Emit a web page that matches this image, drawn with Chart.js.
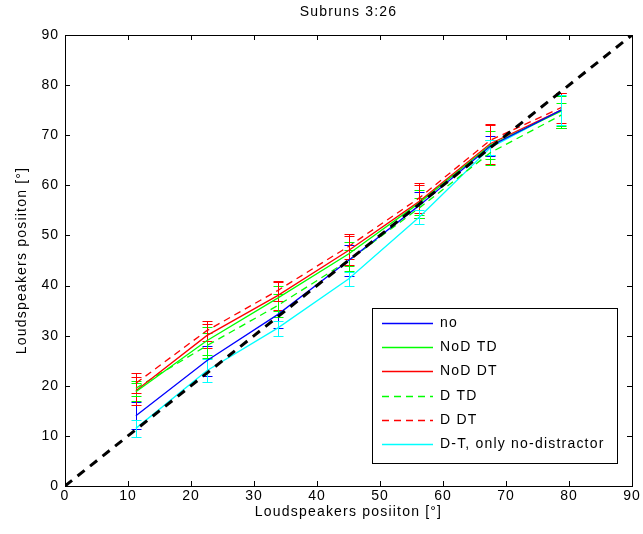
<!DOCTYPE html>
<html>
<head>
<meta charset="utf-8">
<script src="https://cdn.jsdelivr.net/npm/chart.js@4.4.1/dist/chart.umd.min.js"></script>
<style>
  html, body { margin: 0; padding: 0; background: #fff; }
</style>
</head>
<body>
<canvas id="chart" width="643" height="534"></canvas>
<script>
'use strict';

// loudspeaker positions (deg)
var positions = [11.25, 22.5, 33.75, 45, 56.25, 67.5, 78.75];
var axisTicks = [0, 10, 20, 30, 40, 50, 60, 70, 80, 90];

// mean perceived positions and error half-widths per condition
var noMean     = [14, 25, 34.2, 45, 56, 67.8, 75];
var noErr      = [2.7, 3, 2.7, 3, 2.6, 2, 3.5];
var nodTdMean  = [18.8, 29, 37.5, 46.3, 56.5, 68, 74.8];
var nodTdErr   = [1.8, 2.8, 2.5, 2.3, 2.5, 2.8, 3];
var nodDtMean  = [19, 30, 38, 47, 56.8, 68.3, 75];
var nodDtErr   = [2.8, 2.4, 2.8, 2.9, 3.3, 4, 3.5];
var dTdMean    = [19.5, 28, 36, 45, 55.5, 66.5, 74];
var dTdErr     = [1.5, 2.5, 2.3, 2, 2, 2.5, 2.5];
var dDtMean    = [20.5, 31, 39, 47.8, 57.5, 69, 75.5];
var dDtErr     = [2, 2, 2, 2.5, 3, 3, 3];
var onlyNoMean = [11.5, 23, 31.5, 41.3, 53.7, 67.5, 75];
var onlyNoErr  = [1.7, 2.3, 1.5, 1.4, 1.4, 1.5, 3];

var seriesLabels = ['no', 'NoD TD', 'NoD DT', 'D TD', 'D DT', 'D-T, only no-distractor'];
var seriesColors = ['#0000ff', '#00ff00', '#ff0000', '#00ff00', '#ff0000', '#00ffff'];
var seriesDashed = [false, false, false, true, true, false];
var seriesMeans  = [noMean, nodTdMean, nodDtMean, dTdMean, dDtMean, onlyNoMean];
var seriesErrs   = [noErr, nodTdErr, nodDtErr, dTdErr, dDtErr, onlyNoErr];

var FONT = '"Liberation Sans", Arial, sans-serif';
var DASH = [7, 5];

function points(ys) {
  return positions.map(function(x, i) { return { x: x, y: ys[i] }; });
}

var datasets = [{
  label: 'ideal',
  data: [{ x: 0, y: 0 }, { x: 90, y: 90 }],
  borderColor: '#000',
  borderWidth: 3,
  borderDash: [9, 7],
  pointRadius: 0,
  order: -1
}];
seriesLabels.forEach(function(label, i) {
  datasets.push({
    label: label,
    data: points(seriesMeans[i]),
    errors: seriesErrs[i],
    borderColor: seriesColors[i],
    borderWidth: 1.3,
    borderDash: seriesDashed[i] ? DASH : [],
    pointRadius: 0,
    order: 1
  });
});

var matlabFrame = {
  id: 'matlabFrame',
  beforeDraw: function(chart) {
    chart.ctx.letterSpacing = '1px';
  },
  beforeDatasetsDraw: function(chart) {
    var ctx = chart.ctx, xs = chart.scales.x, ys = chart.scales.y;
    ctx.save();
    ctx.lineWidth = 1;
    chart.data.datasets.forEach(function(ds) {
      if (!ds.errors) return;
      ctx.strokeStyle = ds.borderColor;
      ds.data.forEach(function(p, i) {
        var px = Math.round(xs.getPixelForValue(p.x)) + 0.5;
        var top = Math.round(ys.getPixelForValue(p.y + ds.errors[i])) + 0.5;
        var bot = Math.round(ys.getPixelForValue(p.y - ds.errors[i])) + 0.5;
        ctx.beginPath();
        ctx.moveTo(px, top); ctx.lineTo(px, bot);
        ctx.moveTo(px - 5, top); ctx.lineTo(px + 5, top);
        ctx.moveTo(px - 5, bot); ctx.lineTo(px + 5, bot);
        ctx.stroke();
      });
    });
    ctx.restore();
  },
  afterDraw: function(chart) {
    var ctx = chart.ctx, a = chart.chartArea, xs = chart.scales.x, ys = chart.scales.y;
    ctx.save();
    ctx.letterSpacing = '1.2px';

    // axes box with inward ticks on all sides
    ctx.strokeStyle = '#000';
    ctx.lineWidth = 1;
    ctx.strokeRect(a.left + 0.5, a.top + 0.5, a.right - a.left, a.bottom - a.top);
    ctx.beginPath();
    axisTicks.forEach(function(t) {
      var px = Math.round(xs.getPixelForValue(t)) + 0.5;
      ctx.moveTo(px, a.bottom); ctx.lineTo(px, a.bottom - 5);
      ctx.moveTo(px, a.top); ctx.lineTo(px, a.top + 5);
      var py = Math.round(ys.getPixelForValue(t)) + 0.5;
      ctx.moveTo(a.left, py); ctx.lineTo(a.left + 5, py);
      ctx.moveTo(a.right, py); ctx.lineTo(a.right - 5, py);
    });
    ctx.stroke();

    // title and axis labels
    var cx = (a.left + a.right) / 2;
    ctx.fillStyle = '#000';
    ctx.font = '14px ' + FONT;
    ctx.textAlign = 'center';
    ctx.textBaseline = 'middle';
    ctx.fillText('Subruns 3:26', cx, 12);
    ctx.fillText('Loudspeakers posiiton [\u00b0]', cx, 512);
    ctx.save();
    ctx.translate(22, (a.top + a.bottom) / 2);
    ctx.rotate(-Math.PI / 2);
    ctx.fillText('Loudspeakers posiiton [\u00b0]', 0, 0);
    ctx.restore();

    // legend inside the axes
    var lx = 372, ly = 308, lw = 245, lh = 155;
    ctx.fillStyle = '#fff';
    ctx.fillRect(lx, ly, lw, lh);
    ctx.strokeRect(lx + 0.5, ly + 0.5, lw, lh);
    ctx.textAlign = 'left';
    chart.data.datasets.forEach(function(ds, i) {
      if (!ds.errors) return;
      var ry = Math.round(ly + 15 + (i - 1) * 24.2) + 0.5;
      ctx.strokeStyle = ds.borderColor;
      ctx.lineWidth = 1.3;
      ctx.setLineDash(ds.borderDash);
      ctx.beginPath();
      ctx.moveTo(382, ry); ctx.lineTo(433, ry);
      ctx.stroke();
      ctx.setLineDash([]);
      ctx.fillStyle = '#000';
      ctx.fillText(ds.label, 440, ry);
    });
    ctx.restore();
  }
};

function axisOptions(fixSize) {
  return {
    type: 'linear',
    min: 0,
    max: 90,
    grid: { display: false, drawTicks: false },
    border: { display: false },
    ticks: {
      stepSize: 10,
      autoSkip: false,
      maxRotation: 0,
      color: '#000',
      font: { family: FONT, size: 14 },
      padding: 6
    },
    afterFit: fixSize
  };
}

var xAxis = axisOptions(function(s) { s.height = 48; });
xAxis.ticks.padding = 2;
var yAxis = axisOptions(function(s) { s.width = 65; });

new Chart(document.getElementById('chart').getContext('2d'), {
  type: 'line',
  data: { datasets: datasets },
  options: {
    responsive: false,
    animation: false,
    devicePixelRatio: 1,
    layout: { padding: { top: 35, right: 11, left: 0, bottom: 0 } },
    plugins: {
      legend: { display: false },
      tooltip: { enabled: false },
      title: { display: false }
    },
    scales: { x: xAxis, y: yAxis }
  },
  plugins: [matlabFrame]
});
</script>
</body>
</html>
